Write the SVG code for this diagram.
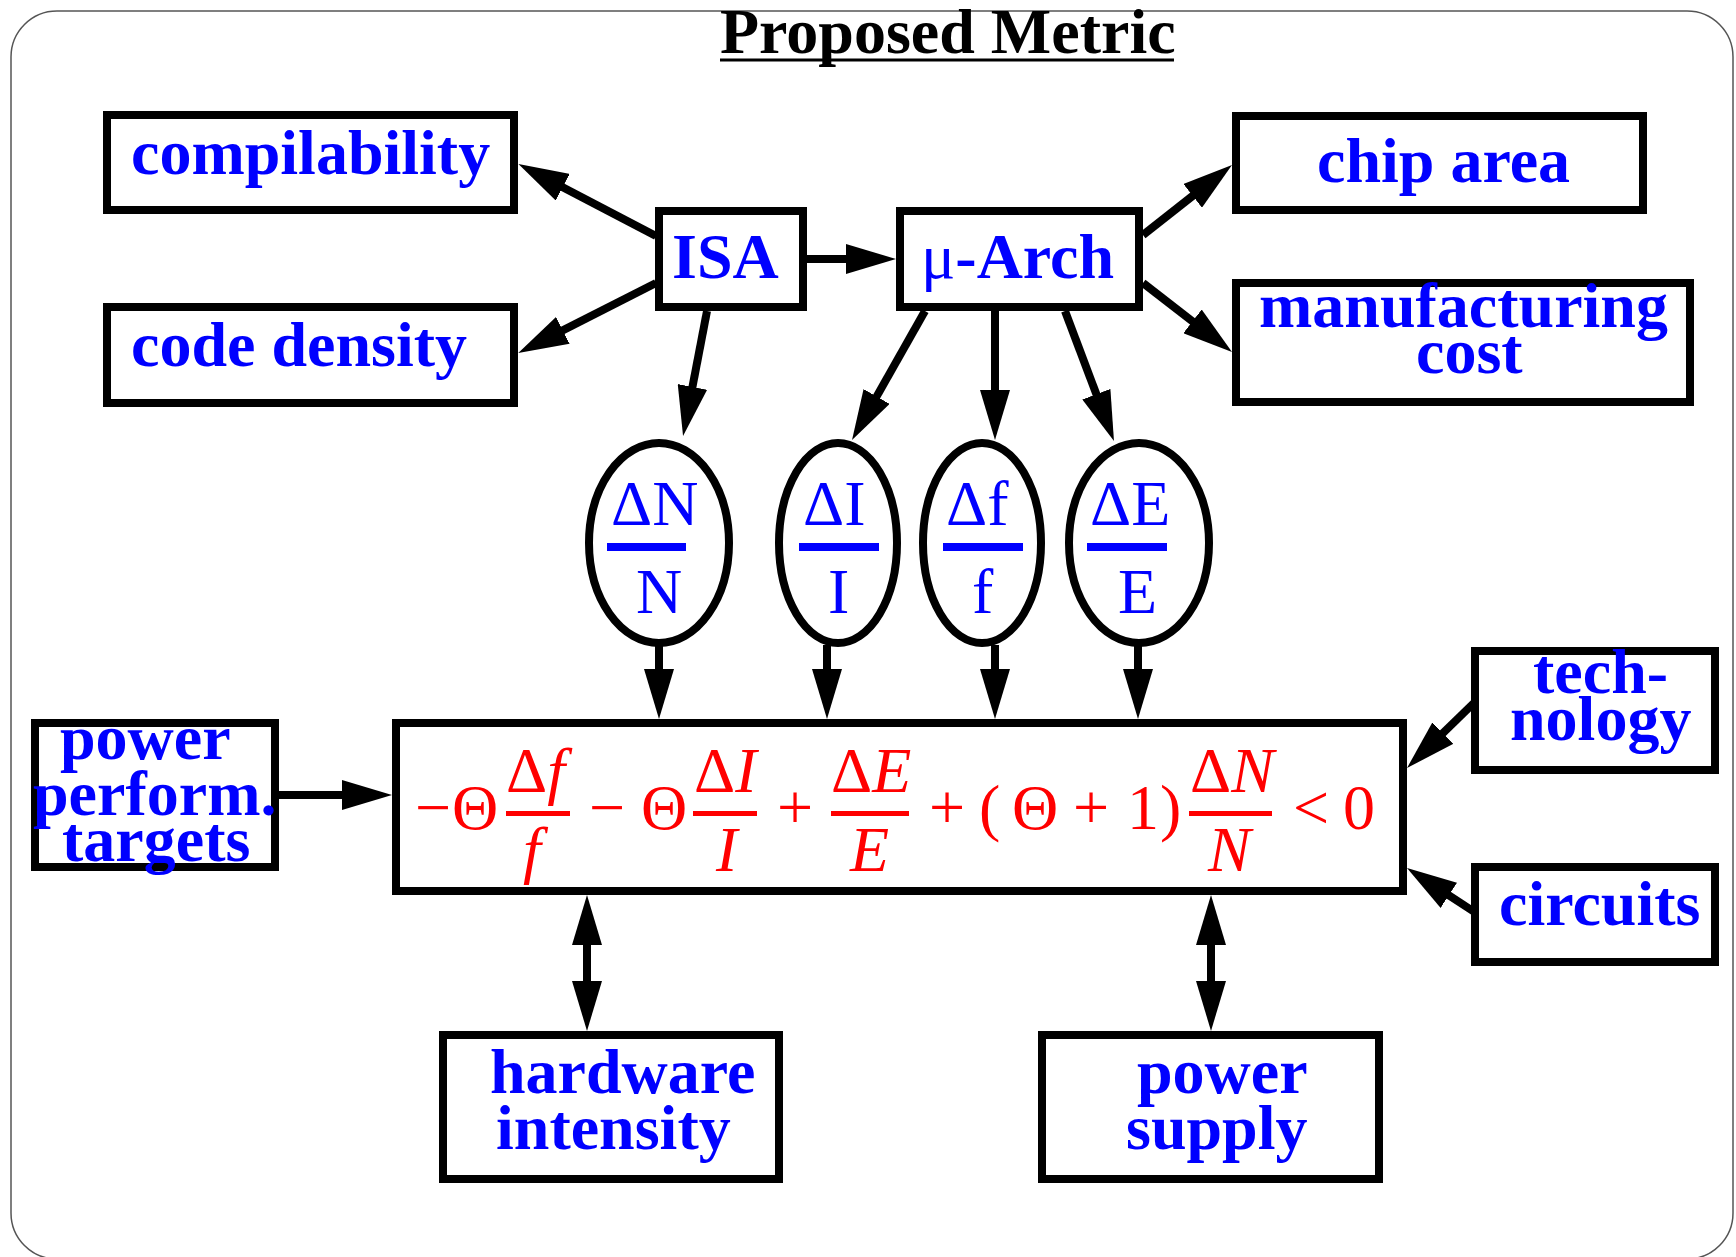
<svg xmlns="http://www.w3.org/2000/svg" width="1736" height="1257" viewBox="0 0 1736 1257">
<defs>
<marker id="ah" markerUnits="userSpaceOnUse" markerWidth="50" markerHeight="30" refX="20" refY="15" orient="auto-start-reverse" viewBox="0 0 50 30"><path d="M0,0 L50,15 L0,30 z" fill="#000"/></marker>
<style>
.frame{fill:#fff;stroke:#555;stroke-width:1.5}
.box{fill:#fff;stroke:#000;stroke-width:8}
.ell{fill:#fff;stroke:#000;stroke-width:8}
.conn line{stroke:#000;stroke-width:8;marker-end:url(#ah)}
.conn line.dbl{marker-start:url(#ah)}
.lbl{font-family:"Liberation Serif","Times New Roman",serif;font-weight:bold;font-size:64px;fill:#0000ff}
.mu{font-weight:normal}
.title{font-family:"Liberation Serif","Times New Roman",serif;font-weight:bold;font-size:64px;fill:#000}
.frac{font-family:"Liberation Serif","Times New Roman",serif;font-size:64px;fill:#0000ff}
.fbar{fill:#0000ff}
.eq{font-family:"Liberation Serif","Times New Roman",serif;font-size:64px;fill:#ff0000}
.it{font-style:italic}
.ebar{fill:#ff0000}
</style>
</defs>
<rect class="frame" x="11" y="11" width="1722" height="1248" rx="46" ry="46"/>
<g id="title">
<text class="title" x="720" y="53">Proposed Metric</text>
<line x1="720" y1="60" x2="1174" y2="60" stroke="#000" stroke-width="3"/>
</g>
<g id="connectors" class="conn">
<line x1="656" y1="236" x2="545" y2="178"/>
<line x1="656" y1="283" x2="545" y2="339.4"/>
<line x1="807" y1="259" x2="866" y2="259"/>
<line x1="1143" y1="235" x2="1208.4" y2="183.5"/>
<line x1="1143" y1="283" x2="1208.3" y2="333.6"/>
<line x1="707" y1="311" x2="688.7" y2="406.5"/>
<line x1="925" y1="311" x2="866.8" y2="413.9"/>
<line x1="995" y1="311" x2="995" y2="410"/>
<line x1="1065" y1="311" x2="1103.4" y2="412.9"/>
<line x1="659" y1="645" x2="659" y2="689"/>
<line x1="827" y1="645" x2="827" y2="689"/>
<line x1="995" y1="645" x2="995" y2="689"/>
<line x1="1138" y1="645" x2="1138" y2="689"/>
<line x1="279" y1="795" x2="362" y2="795"/>
<line x1="1479" y1="698" x2="1428.5" y2="747.1"/>
<line x1="1479" y1="915" x2="1432.1" y2="884.4"/>
<line class="dbl" x1="587" y1="925" x2="587" y2="1001"/>
<line class="dbl" x1="1211" y1="925" x2="1211" y2="1001"/>
</g>
<g id="compilability">
<rect class="box" x="107" y="115" width="407" height="95"/>
<text class="lbl" x="131" y="174">compilability</text>
</g>
<g id="code-density">
<rect class="box" x="107" y="307" width="407" height="96"/>
<text class="lbl" x="131" y="366">code density</text>
</g>
<g id="isa">
<rect class="box" x="659" y="211" width="144" height="96"/>
<text class="lbl" x="672" y="278">ISA</text>
</g>
<g id="uarch">
<rect class="box" x="900" y="211" width="239" height="96"/>
<text class="lbl" x="921" y="278"><tspan class="mu">μ</tspan>-Arch</text>
</g>
<g id="chip-area">
<rect class="box" x="1236" y="116" width="407" height="94"/>
<text class="lbl" x="1317" y="182">chip area</text>
</g>
<g id="manufacturing-cost">
<rect class="box" x="1236" y="283" width="454" height="119"/>
<text class="lbl" x="1259" y="327">manufacturing</text>
<text class="lbl" x="1416" y="373">cost</text>
</g>
<g id="dN">
<ellipse class="ell" cx="659" cy="543" rx="70" ry="100"/>
<text class="frac" x="611" y="525">ΔN</text>
<rect class="fbar" x="607" y="543" width="79" height="8"/>
<text class="frac" x="636" y="613">N</text>
</g>
<g id="dI">
<ellipse class="ell" cx="838" cy="543" rx="59" ry="100"/>
<text class="frac" x="803" y="525">ΔI</text>
<rect class="fbar" x="799" y="543" width="80" height="8"/>
<text class="frac" x="828" y="613">I</text>
</g>
<g id="df">
<ellipse class="ell" cx="982" cy="543" rx="59" ry="100"/>
<text class="frac" x="946" y="525">Δf</text>
<rect class="fbar" x="943" y="543" width="80" height="8"/>
<text class="frac" x="972" y="613">f</text>
</g>
<g id="dE">
<ellipse class="ell" cx="1139" cy="543" rx="70" ry="100"/>
<text class="frac" x="1090" y="525">ΔE</text>
<rect class="fbar" x="1087" y="543" width="80" height="8"/>
<text class="frac" x="1118" y="613">E</text>
</g>
<g id="metric">
<rect class="box" x="396" y="723" width="1007" height="168"/>
<text class="eq" x="415" y="829">−</text>
<text class="eq" x="452" y="829">Θ</text>
<text class="eq" x="506" y="792">Δ<tspan class="it">f</tspan></text>
<rect class="ebar" x="506" y="811" width="64" height="5"/>
<text class="eq it" x="523" y="871">f</text>
<text class="eq" x="589" y="829">−</text>
<text class="eq" x="641" y="829">Θ</text>
<text class="eq" x="694" y="792">Δ<tspan class="it">I</tspan></text>
<rect class="ebar" x="693" y="811" width="64" height="5"/>
<text class="eq it" x="716" y="871">I</text>
<text class="eq" x="777" y="829">+</text>
<text class="eq" x="831" y="792">Δ<tspan class="it">E</tspan></text>
<rect class="ebar" x="831" y="811" width="78" height="5"/>
<text class="eq it" x="850" y="871">E</text>
<text class="eq" x="929" y="829">+</text>
<text class="eq" x="979" y="829">(</text>
<text class="eq" x="1012" y="829">Θ</text>
<text class="eq" x="1073" y="829">+</text>
<text class="eq" x="1127" y="829">1</text>
<text class="eq" x="1160" y="829">)</text>
<text class="eq" x="1190" y="792">Δ<tspan class="it">N</tspan></text>
<rect class="ebar" x="1189" y="811" width="83" height="5"/>
<text class="eq it" x="1208" y="871">N</text>
<text class="eq" x="1293" y="829">&lt;</text>
<text class="eq" x="1343" y="829">0</text>
</g>
<g id="targets">
<rect class="box" x="35" y="723" width="240" height="144"/>
<text class="lbl" x="60" y="759">power</text>
<text class="lbl" x="33" y="815">perform.</text>
<text class="lbl" x="62" y="861">targets</text>
</g>
<g id="technology">
<rect class="box" x="1475" y="651" width="240" height="119"/>
<text class="lbl" x="1533" y="693">tech-</text>
<text class="lbl" x="1510" y="740">nology</text>
</g>
<g id="circuits">
<rect class="box" x="1475" y="867" width="240" height="95"/>
<text class="lbl" x="1499" y="925">circuits</text>
</g>
<g id="hardware-intensity">
<rect class="box" x="443" y="1035" width="336" height="144"/>
<text class="lbl" x="490" y="1093">hardware</text>
<text class="lbl" x="496" y="1149">intensity</text>
</g>
<g id="power-supply">
<rect class="box" x="1042" y="1035" width="337" height="144"/>
<text class="lbl" x="1137" y="1093">power</text>
<text class="lbl" x="1126" y="1149">supply</text>
</g>
</svg>
